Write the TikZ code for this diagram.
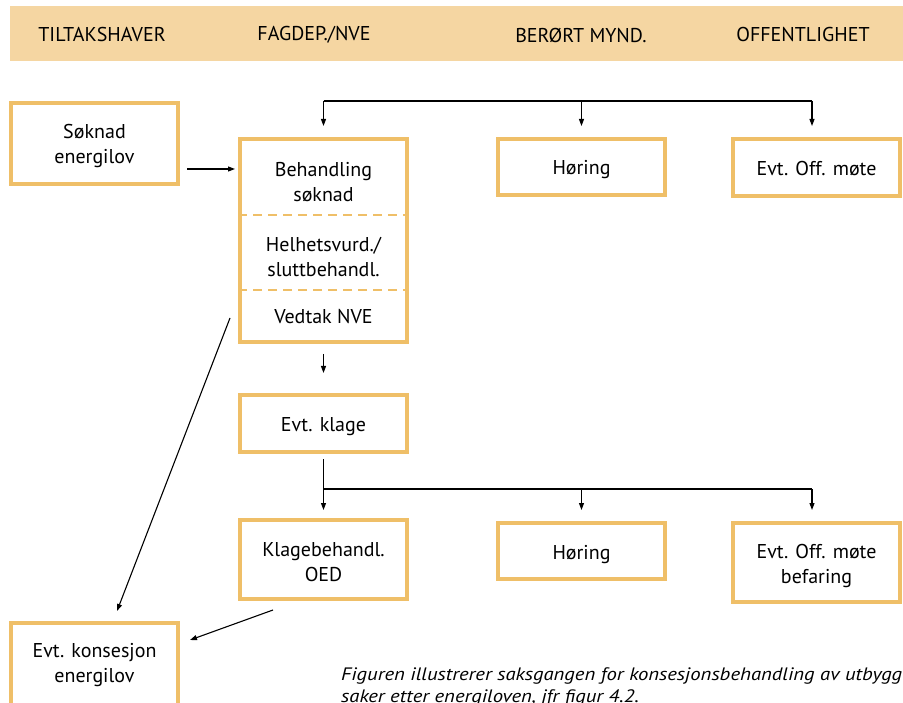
\documentclass[tikz,border=0pt]{standalone}
\usepackage{fontspec}
\setmainfont{PT Sans}
\newfontfamily\capfont[FakeStretch=1.15]{PT Sans}
\usetikzlibrary{arrows.meta,calc}
\definecolor{boxc}{HTML}{EFBF68}
\definecolor{bandc}{HTML}{F5D6A2}
\begin{document}
\begin{tikzpicture}[x=1pt,y=-1pt,
 box/.style={draw=boxc, line width=4pt, fill=white, minimum width=167pt, inner sep=0pt, align=center, font=\fontsize{20}{25}\selectfont,
   execute at begin node={\rule{0pt}{22pt}}, execute at end node={\rule[-6pt]{0pt}{6pt}}},
 frame/.style={draw=boxc, line width=4pt, fill=white, minimum width=167pt, inner sep=0pt},
 txt/.style={inner sep=0pt, align=center, font=\fontsize{20}{25}\selectfont},
 hdr/.style={inner sep=0pt, font=\fontsize{20}{24}\selectfont},
 arr/.style={-{Triangle[length=7pt,width=5pt]}, line width=1.1pt},
 ln/.style={line width=1.1pt},
 sep/.style={draw=boxc, line width=2.5pt, dash pattern=on 9pt off 6pt},
 captext/.style={inner sep=0pt, anchor=base west, font=\fontsize{18}{22}\capfont\itshape}]
\useasboundingbox (0,0) rectangle (903,703);
\clip (0,0) rectangle (903,703);
% header band
\fill[bandc] (10,6) rectangle (905,61);
\node[hdr] (h1) at (102,35) {TILTAKSHAVER};
\node[hdr] (h2) at (314,35) {FAGDEP./NVE};
\node[hdr] (h3) at (581,35) {BERØRT MYND.};
\node[hdr] (h4) at (803,35) {OFFENTLIGHET};
% boxes
\node[frame, minimum height=81pt] (soknad) at (94.5,143.5) {};
\node[txt] (soknadT) at (94.5,146.5) {Søknad\\energilov};
\node[frame, minimum height=203pt] (beh) at (323.5,240.5) {};
\draw[sep] (beh.west |- 0,215) -- (beh.east |- 0,215);
\draw[sep] (beh.west |- 0,290) -- (beh.east |- 0,290);
\node[txt] (b1) at (323.5,182) {Behandling\\søknad};
\node[txt] (b2) at (323.5,257) {Helhetsvurd./\\sluttbehandl.};
\node[txt, execute at begin node={\rule{0pt}{22pt}}, execute at end node={\rule[-6pt]{0pt}{6pt}}] (b3) at (323.5,316) {Vedtak NVE};
\node[box, minimum height=56pt] (hor1) at (581.5,167) {Høring};
\node[box, minimum height=57pt] (off1) at (816.5,167.5) {Evt. Off. møte};
\node[box, minimum height=57pt] (klage) at (323.5,423.5) {Evt. klage};
\node[frame, minimum height=79pt] (klbeh) at (323.5,559.5) {};
\node[txt] (klbehT) at (323.5,562) {Klagebehandl.\\OED};
\node[box, minimum height=56pt] (hor2) at (581.5,551) {Høring};
\node[frame, minimum height=79pt] (off2) at (816.5,562.5) {};
\node[txt] (off2T) at (816.5,566) {Evt. Off. møte\\befaring};
\node[frame, minimum height=84pt] (kons) at (94.5,665) {};
\node[txt] (konsT) at (94.5,665) {Evt. konsesjon\\energilov};
% connectors
\draw[arr] ($(soknad.east)+(7,25.5)$) coordinate (s1) -- ($(beh.west |- s1)+(-3,0)$);
% top tree
\coordinate (topL) at ($(beh.north)+(0,-36)$);
\draw[ln] (topL) -- ($(topL -| off1.north)+(-4.5,0)$) coordinate (topR);
\draw[arr] (topL) -- ($(beh.north)+(0,-11)$);
\draw[arr] (topL -| hor1.north) -- ($(hor1.north)+(0,-11)$);
\draw[arr] (topR) -- ($(off1.north)+(-4.5,-11)$);
% beh -> klage
\draw[arr] ($(beh.south)+(0,10)$) -- ($(klage.north)+(0,-20)$);
% bottom tree
\coordinate (botL) at ($(klage.south)+(0,35)$);
\draw[ln] ($(klage.south)+(0,5)$) -- (botL);
\draw[ln] (botL) -- ($(botL -| off2.north)+(-4.5,0)$) coordinate (botR);
\draw[arr] (botL) -- ($(klbeh.north)+(0,-8)$);
\draw[arr] (botL -| hor2.north) -- ($(hor2.north)+(0,-11)$);
\draw[arr] (botR) -- ($(off2.north)+(-4.5,-11)$);
% diagonals
\draw[arr] ($(beh.south west)+(-8,-26)$) -- ($(kons.north)+(22.5,-10)$);
\draw[arr] ($(klbeh.south west)+(35,9)$) -- ($(kons.north east)+(10,19)$);
% caption
\node[captext] (cap1) at (341,680) {Figuren illustrerer saksgangen for konsesjonsbehandling av utbyggings-};
\node[captext] (cap2) at (341,702) {saker etter energiloven, jfr figur 4.2.};
\end{tikzpicture}
\end{document}
